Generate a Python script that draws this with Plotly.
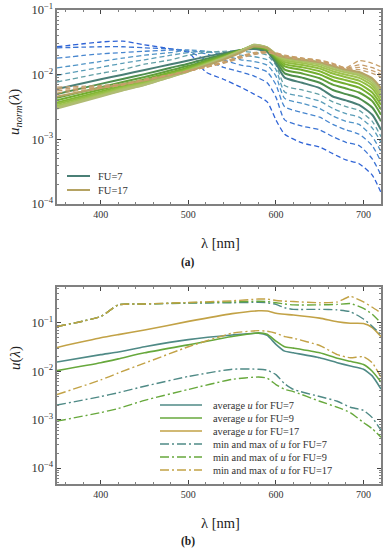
import plotly.graph_objects as go

# ---------------- panel (a) data: normalised spectra per Forel-Ule class ----------------
wl_a = [350, 400, 425, 450, 480, 500, 520, 540, 560, 575, 590, 600, 610, 630, 650, 665, 680, 695, 710, 720]

fu01 = [.027, .032, .033, .029, .025, .022, .011, .0085, .0064, .0050, .0038, .0020, .0012, .00088, .00076, .00060, .00048, .00042, .00028, .00015]
fu02 = [.026, .027, .027, .026, .025, .023, .017, .013, .011, .0095, .0075, .0045, .0020, .0016, .0014, .0011, .00090, .00080, .00050, .00028]
fu03 = [.018, .021, .022, .023, .024, .024, .021, .017, .014, .013, .011, .0070, .0032, .0026, .0022, .0017, .0014, .0012, .00080, .00045]
fu04 = [.0127, .016, .018, .020, .022, .024, .023, .020, .017, .016, .014, .0095, .0043, .0036, .0030, .0023, .0019, .0017, .0011, .00065]
fu05 = [.0098, .013, .015, .017, .020, .022, .023, .022, .020, .019, .017, .012, .0054, .0046, .0039, .0030, .0025, .0022, .0015, .00090]
fu06 = [.0077, .0105, .012, .0145, .017, .020, .022, .023, .023, .022, .020, .014, .0068, .0058, .0049, .0038, .0032, .0028, .0019, .0011]
fu07 = [.0060, .0085, .0100, .0118, .0145, .0165, .0190, .0215, .0240, .0250, .0225, .0150, .0090, .0075, .0062, .0046, .0040, .0034, .0024, .0014]
fu08 = [.0050, .0072, .0086, .0102, .0128, .0148, .0175, .0205, .0240, .0260, .0235, .0163, .0105, .0090, .0075, .0058, .0050, .0043, .0031, .0019]
fu09 = [.0044, .0064, .0077, .0092, .0117, .0137, .0165, .0198, .0240, .0268, .0243, .0174, .0120, .0104, .0088, .0070, .0061, .0053, .0039, .0024]
fu10 = [.0040, .0059, .0071, .0085, .0109, .0129, .0158, .0192, .0238, .0274, .0249, .0183, .0134, .0118, .0101, .0082, .0072, .0063, .0046, .0029]
fu11 = [.0037, .0055, .0067, .0080, .0104, .0124, .0153, .0188, .0237, .0279, .0253, .0190, .0146, .0130, .0113, .0093, .0082, .0072, .0053, .0034]
fu12 = [.0035, .0052, .0064, .0077, .0100, .0120, .0149, .0185, .0236, .0283, .0257, .0195, .0157, .0141, .0124, .0104, .0091, .0081, .0061, .0039]
fu13 = [.0033, .0050, .0062, .0074, .0097, .0117, .0146, .0183, .0235, .0286, .0260, .0200, .0167, .0151, .0134, .0113, .0100, .0089, .0068, .0044]
fu14 = [.0032, .0048, .0060, .0072, .0095, .0115, .0144, .0181, .0234, .0288, .0262, .0204, .0176, .0160, .0143, .0122, .0108, .0097, .0074, .0049]
fu15 = [.0031, .0047, .0058, .0070, .0093, .0113, .0142, .0180, .0233, .0289, .0264, .0207, .0184, .0167, .0150, .0130, .0114, .0103, .0080, .0054]
fu16 = [.0030, .0046, .0057, .0069, .0092, .0112, .0141, .0179, .0232, .0290, .0265, .0210, .0190, .0172, .0155, .0135, .0118, .0108, .0085, .0058]
fu17 = [.0046, .0062, .0071, .0081, .0099, .0114, .0138, .0170, .0220, .0272, .0258, .0205, .0186, .0170, .0155, .0137, .0120, .0110, .0088, .0062]
fu18 = [.0064, .0068, .0072, .0085, .0100, .0115, .0130, .0150, .0180, .0205, .0218, .0205, .0188, .0172, .0158, .0140, .0122, .0120, .0105, .0092]
fu19 = [.0060, .0066, .0071, .0084, .0100, .0114, .0130, .0152, .0185, .0210, .0222, .0210, .0192, .0175, .0162, .0144, .0124, .0130, .0115, .0102]
fu20 = [.0056, .0064, .0070, .0083, .0099, .0113, .0131, .0155, .0190, .0215, .0226, .0214, .0196, .0178, .0165, .0147, .0126, .0142, .0128, .0113]
fu21 = [.0052, .0062, .0069, .0082, .0099, .0113, .0132, .0158, .0195, .0220, .0230, .0218, .0200, .0181, .0168, .0150, .0128, .0165, .0150, .0132]

fu_series = [fu01, fu02, fu03, fu04, fu05, fu06, fu07, fu08, fu09, fu10, fu11,
             fu12, fu13, fu14, fu15, fu16, fu17, fu18, fu19, fu20, fu21]
fu_colors = ["#2f63d6", "#3c74d4", "#4786cf", "#5094c6", "#5a9db8", "#63a0a6",
             "#4a7f76", "#4f8f4c", "#62a03a", "#72ad2e", "#82b634", "#92bd42",
             "#9fc250", "#a8c35e", "#aec26c", "#b0bc74", "#b5a363",
             "#c4a070", "#c9a272", "#c49a66", "#c8a06a"]
legend_a_labels = ["FU=7", "FU=17"]
legend_a_colors = ["#4a7f76", "#b5a363"]

# ---------------- panel (b) data: average / min / max of u ----------------
wl_b = [350, 400, 420, 450, 500, 550, 580, 590, 600, 610, 620, 650, 670, 685, 700, 710, 720]
avg7 = [.0155, .022, .025, .032, .045, .056, .061, .055, .036, .026, .024, .019, .0150, .0128, .0110, .0080, .0043]
avg9 = [.0103, .015, .018, .024, .035, .052, .062, .058, .042, .032, .030, .024, .0185, .0160, .0138, .0100, .0060]
avg17 = [.031, .049, .057, .071, .107, .155, .177, .175, .158, .150, .145, .125, .105, .098, .097, .080, .052]
max7 = [.084, .135, .235, .245, .255, .26, .265, .26, .24, .205, .19, .19, .185, .17, .12, .085, .057]
max9 = [.084, .135, .235, .245, .26, .27, .28, .275, .26, .245, .235, .235, .24, .25, .20, .15, .10]
max17 = [.084, .135, .235, .245, .263, .285, .31, .31, .29, .28, .275, .26, .27, .35, .27, .21, .16]
min7 = [.0020, .0030, .0036, .0049, .0078, .011, .011, .0105, .0085, .0055, .0042, .0030, .0024, .0018, .00155, .0011, .00060]
min9 = [.00093, .0014, .0017, .0025, .0042, .0068, .0076, .0072, .0053, .0042, .0038, .0024, .0018, .0014, .00087, .00065, .00043]
min17 = [.0033, .0066, .0092, .0147, .032, .061, .069, .067, .061, .052, .048, .034, .022, .019, .020, .015, .0075]

col7, col9, col17 = "#4f8a86", "#67a83c", "#c2a246"
legend_b_labels = ["average <i>u</i> for FU=7", "average <i>u</i> for FU=9", "average <i>u</i> for FU=17",
                   "min and max of <i>u</i> for FU=7", "min and max of <i>u</i> for FU=9",
                   "min and max of <i>u</i> for FU=17"]

FONT = "Liberation Serif, Times New Roman, Times, serif"
DASH_A = "5px,3px"
DD = "9px,3px,2px,3px"
fig = go.Figure()

for i, (ys, c) in enumerate(zip(fu_series, fu_colors)):
    fu = i + 1
    solid = 7 <= fu <= 17
    fig.add_trace(go.Scatter(
        x=wl_a, y=ys, mode="lines", xaxis="x", yaxis="y", name="FU=%d" % fu,
        line=dict(color=c, width=2.0 if solid else 1.3, dash="solid" if solid else DASH_A,
                  shape="spline", smoothing=0.6)))

for ys, c in [(avg7, col7), (avg9, col9), (avg17, col17)]:
    fig.add_trace(go.Scatter(x=wl_b, y=ys, mode="lines", xaxis="x2", yaxis="y2",
                             line=dict(color=c, width=1.6, shape="spline", smoothing=0.5)))
for lo, hi, c in [(min7, max7, col7), (min9, max9, col9), (min17, max17, col17)]:
    for ys in (hi, lo):
        fig.add_trace(go.Scatter(x=wl_b, y=ys, mode="lines", xaxis="x2", yaxis="y2",
                                 line=dict(color=c, width=1.4, dash=DD, shape="spline", smoothing=0.5)))

TICKFONT = dict(family=FONT, size=10, color="#333")
xcommon = dict(range=[350, 720], tickvals=[400, 500, 600, 700], ticks="inside", ticklen=4,
               showline=True, linecolor="#808080", linewidth=1.5, mirror="allticks",
               showgrid=False, zeroline=False, tickfont=TICKFONT,
               minor=dict(dtick=20, tick0=0, ticks="inside", ticklen=2.5, tickcolor="#808080"))
ycommon = dict(type="log", dtick=1, exponentformat="power", ticks="inside", ticklen=4,
               showline=True, linecolor="#808080", linewidth=1.5, mirror="allticks",
               showgrid=False, zeroline=False, tickfont=TICKFONT,
               minor=dict(dtick="D1", ticks="inside", ticklen=2.5, tickcolor="#808080"))

fig.update_layout(
    width=389, height=550, margin=dict(l=57, r=8, t=10, b=66, autoexpand=False),
    paper_bgcolor="white", plot_bgcolor="white",
    font=dict(family=FONT, color="#222"),
    showlegend=False,
    xaxis=dict(domain=[0, 1], anchor="y", **xcommon),
    yaxis=dict(domain=[0.5907, 1.0], anchor="x", range=[-4, -1], **ycommon),
    xaxis2=dict(domain=[0, 1], anchor="y2", **xcommon),
    yaxis2=dict(domain=[0.0, 0.4156], anchor="x2", range=[-4.33, -0.26], **ycommon),
)

# ---- legends drawn as sample lines + real text (paper coordinates) ----
def px_x(px):
    return (px - 57) / 324.0

def px_y(py):
    return (484 - py) / 474.0

rows_a = [176, 190]
for lab, c, ry in zip(legend_a_labels, legend_a_colors, rows_a):
    fig.add_shape(type="line", xref="paper", yref="paper", x0=px_x(67), x1=px_x(90),
                  y0=px_y(ry), y1=px_y(ry), line=dict(color=c, width=2))
    fig.add_annotation(text=lab, x=px_x(96), y=px_y(ry), xref="paper", yref="paper",
                       showarrow=False, xanchor="left", yanchor="middle",
                       font=dict(family=FONT, size=10.5, color="#333"))

rows_b = [405, 418, 431, 444, 457, 470]
colors_b = [col7, col9, col17, col7, col9, col17]
dashes_b = ["solid", "solid", "solid", DD, DD, DD]
for lab, c, d, ry in zip(legend_b_labels, colors_b, dashes_b, rows_b):
    fig.add_shape(type="line", xref="paper", yref="paper", x0=px_x(160), x1=px_x(202),
                  y0=px_y(ry), y1=px_y(ry), line=dict(color=c, width=1.6, dash=d))
    fig.add_annotation(text=lab, x=px_x(211), y=px_y(ry), xref="paper", yref="paper",
                       showarrow=False, xanchor="left", yanchor="middle",
                       font=dict(family=FONT, size=10.3, color="#333"))

ann = [
    ("λ [nm]", 220, 243, 14.5),
    ("<b>(a)</b>", 188, 262, 11.5),
    ("λ [nm]", 220, 523, 14.5),
    ("<b>(b)</b>", 188, 541, 11.5),
]
for t, ax, ay, s in ann:
    fig.add_annotation(text=t, x=px_x(ax), y=px_y(ay), xref="paper", yref="paper",
                       showarrow=False, xanchor="center", yanchor="middle",
                       font=dict(family=FONT, size=s, color="#222"))
fig.add_annotation(text="<i>u<sub>norm</sub></i>(<i>λ</i>)", x=px_x(15), y=px_y(112), xref="paper",
                   yref="paper", showarrow=False, textangle=-90, xanchor="center", yanchor="middle",
                   font=dict(family=FONT, size=15, color="#222"))
fig.add_annotation(text="<i>u</i>(<i>λ</i>)", x=px_x(15), y=px_y(358), xref="paper", yref="paper",
                   showarrow=False, textangle=-90, xanchor="center", yanchor="middle",
                   font=dict(family=FONT, size=15, color="#222"))

# the page body has a default 8px margin; remove it so the figure sits at the window origin
fig.write_html("out.html", config={"displayModeBar": False},
               post_script="document.body.style.margin='0px';")
